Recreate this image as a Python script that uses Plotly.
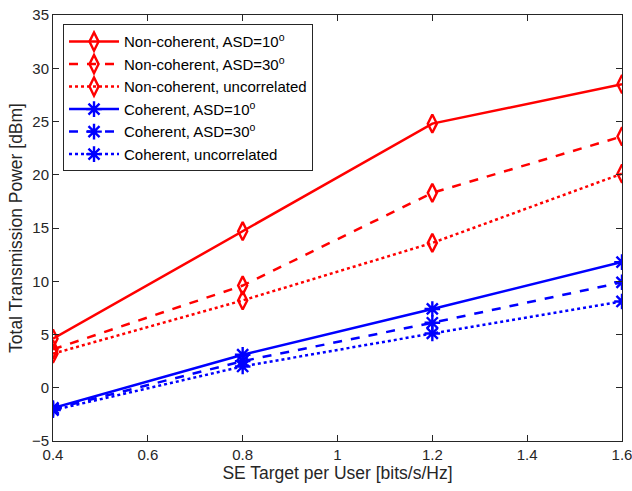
import plotly.graph_objects as go

se = [0.4, 0.8, 1.2, 1.6]
nc_asd10 = [4.6, 14.7, 24.8, 28.5]
nc_asd30 = [3.6, 9.6, 18.3, 23.6]
nc_unc = [3.2, 8.2, 13.6, 20.1]
c_asd10 = [-1.9, 3.1, 7.4, 11.8]
c_asd30 = [-2.0, 2.5, 6.1, 9.9]
c_unc = [-2.1, 2.0, 5.1, 8.1]

names = ["Non-coherent, ASD=10<sup>o</sup>", "Non-coherent, ASD=30<sup>o</sup>",
         "Non-coherent, uncorrelated", "Coherent, ASD=10<sup>o</sup>",
         "Coherent, ASD=30<sup>o</sup>", "Coherent, uncorrelated"]
series = [nc_asd10, nc_asd30, nc_unc, c_asd10, c_asd30, c_unc]
colors = ["#ff0000"] * 3 + ["#0000ff"] * 3
dashes = ["solid", "dash", "dot"] * 2
symbols = ["diamond-tall-open"] * 3 + ["asterisk-open"] * 3

fig = go.Figure()
for n, s, c, d, m in zip(names, series, colors, dashes, symbols):
    fig.add_trace(go.Scatter(
        x=se, y=s, name=n, mode="lines+markers",
        line=dict(color=c, width=2.5, dash=d),
        marker=dict(symbol=m, size=13, color=c, line=dict(color=c, width=2.4)),
    ))

axis_common = dict(showline=True, linecolor="#262626", linewidth=1, mirror="ticks",
                   ticks="inside", ticklen=6, tickcolor="#262626", showgrid=False,
                   zeroline=False, automargin=False, ticklabeloverflow="allow",
                   tickfont=dict(size=15, color="#262626"),
                   title_font=dict(size=17.5, color="#262626"))

fig.update_layout(
    width=632, height=491,
    margin=dict(l=53, r=10, t=15, b=50),
    plot_bgcolor="white", paper_bgcolor="white",
    font=dict(family="Arial, Liberation Sans, sans-serif", color="#000000"),
    xaxis=dict(range=[0.4, 1.6], tickvals=[0.4, 0.6, 0.8, 1.0, 1.2, 1.4, 1.6],
               ticktext=["0.4", "0.6", "0.8", "1", "1.2", "1.4", "1.6"],
               title=dict(text="SE Target per User [bits/s/Hz]", standoff=3), **axis_common),
    yaxis=dict(range=[-5, 35], tickvals=list(range(-5, 36, 5)),
               title=dict(text="Total Transmission Power [dBm]", standoff=4), **axis_common),
    legend=dict(x=0.0176, y=0.978, xanchor="left", yanchor="top",
                bordercolor="#262626", borderwidth=1, bgcolor="white",
                font=dict(size=15, color="#000000"), tracegroupgap=0,
                itemwidth=50),
    showlegend=True,
)

fig.write_html("out.html")
